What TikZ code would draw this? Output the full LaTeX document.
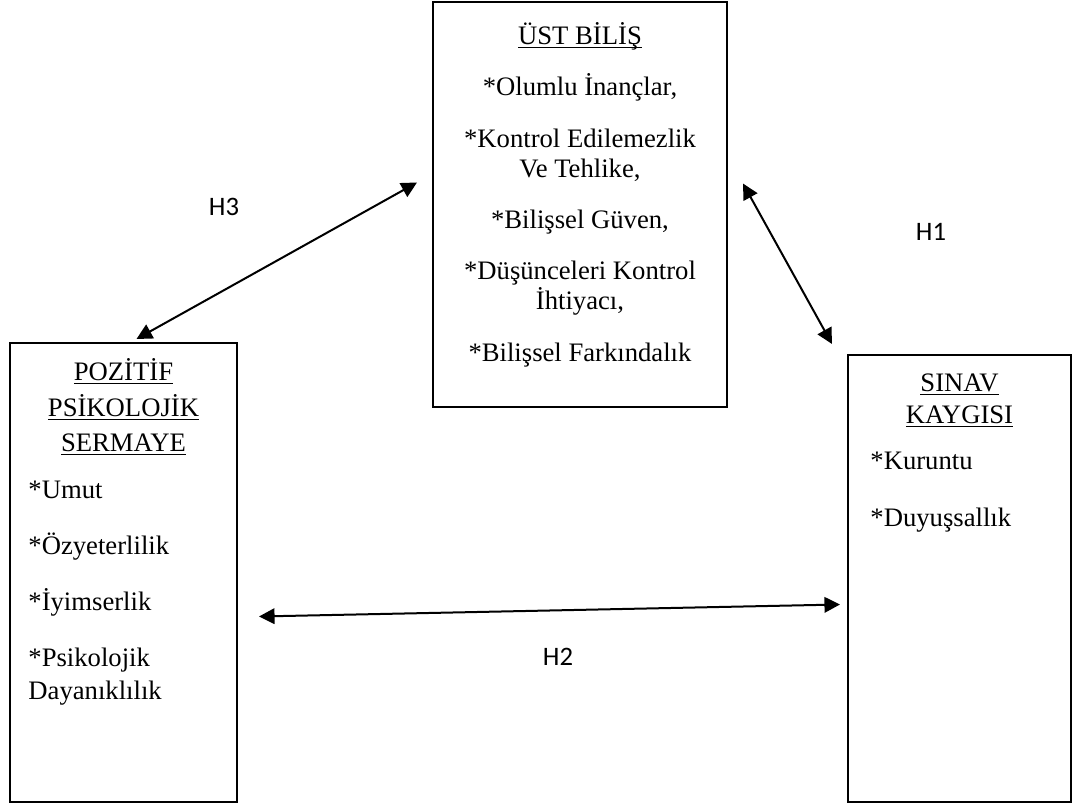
\documentclass[tikz,border=0pt]{standalone}
\usepackage{fontspec}
\setmainfont{Liberation Serif}
\newfontfamily\hfont{Carlito}
\usetikzlibrary{arrows.meta}
\newcommand{\alticiz}[1]{\setbox0\hbox{#1}\dp0=0pt\underline{\box0}}
\begin{document}
\begin{tikzpicture}[x=0.45pt, y=-0.45pt, line cap=round, line join=round, >={Triangle[length=7pt,width=7pt]}]
	\tikzset{kutu/.style={draw, line width=0.9pt, line join=miter, line cap=rect, inner sep=0pt},
		yazi/.style={inner sep=0pt, font=\fontsize{12}{13.5}\selectfont},
		baslik/.style={yazi, align=center, font=\fontsize{12}{16}\selectfont},
		etiket/.style={font=\hfont\fontsize{12}{14}\selectfont},
		ok/.style={<->, line width=0.9pt}}
	\useasboundingbox (0,0) rectangle (1077,808);
	\node[kutu, minimum width=132.3pt, minimum height=182.25pt] (ust) at (580,204.5) {};
	\node[kutu, minimum width=102.15pt, minimum height=206.55pt] (pps) at (123.5,572.5) {};
	\node[kutu, minimum width=100.35pt, minimum height=201.15pt] (sk) at (959.5,578.5) {};
	\node[yazi, align=center, anchor=north] (ustyazi) at ([yshift=-9.5pt]ust.north)
		{\alticiz{ÜST BİLİŞ}\\[9.6pt]
		*Olumlu İnançlar,\\[9.6pt]
		*Kontrol Edilemezlik\\Ve Tehlike,\\[9.6pt]
		*Bilişsel Güven,\\[9.6pt]
		*Düşünceleri Kontrol\\İhtiyacı,\\[9.6pt]
		*Bilişsel Farkındalık};
	\node[baslik, anchor=north] (ppsbaslik) at ([yshift=-7.2pt]pps.north)
		{\alticiz{POZİTİF}\\\alticiz{PSİKOLOJİK}\\\alticiz{SERMAYE}};
	\node[yazi, align=left, anchor=north west, font=\fontsize{12}{14.8}\selectfont] (ppsyazi) at (28,481)
		{*Umut\\[10.3pt]
		*Özyeterlilik\\[10.3pt]
		*İyimserlik\\[10.3pt]
		*Psikolojik\\Dayanıklılık};
	\node[baslik, anchor=north] (skbaslik) at ([yshift=-8.6pt]sk.north)
		{\alticiz{SINAV}\\[-1.5pt]\alticiz{KAYGISI}};
	\node[yazi, align=left, anchor=north west] (skyazi) at (870,452)
		{*Kuruntu\\[12pt]
		*Duyuşsallık};
	\draw[ok] ([shift={(-15,-22)}]ust.west) -- ([shift={(13,-3)}]pps.north);
	\draw[ok] ([shift={(15,-21)}]ust.east) -- ([shift={(-15,-10)}]sk.north west);
	\draw[ok] ([shift={(21,44)}]pps.east) -- ([shift={(-7,26)}]sk.west);
	\node[etiket] (h3) at (224,207) {H3};
	\node[etiket] (h1) at (931,232) {H1};
	\node[etiket] (h2) at (558,657) {H2};
\end{tikzpicture}
\end{document}
